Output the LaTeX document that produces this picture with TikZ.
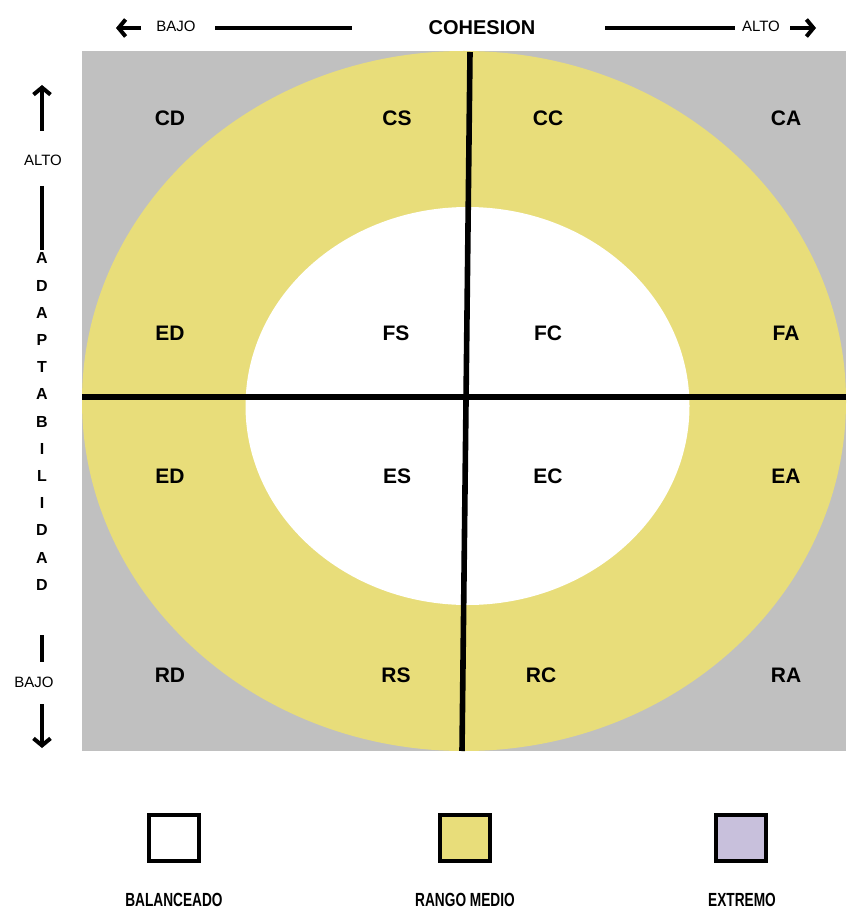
\documentclass[tikz,border=0pt]{standalone}
\usepackage{fontspec}
\setmainfont{Liberation Sans}
\newfontfamily\narrowfont[FakeStretch=0.72]{Liberation Sans}
\usetikzlibrary{arrows.meta,positioning}
\definecolor{grisext}{RGB}{192,192,192}
\definecolor{amarillo}{RGB}{232,221,122}
\definecolor{lila}{RGB}{200,192,220}

\begin{document}
\begin{tikzpicture}[x=0.5pt,y=-0.5pt,
  cell/.style={font=\fontsize{10.5}{12}\selectfont\bfseries},
  head/.style={font=\fontsize{10}{12}\selectfont\bfseries},
  small/.style={font=\fontsize{7.5}{9}\selectfont},
  axis/.style={line width=2.8pt},
  rule/.style={line width=1.6pt},
  flecha/.style={line width=2pt,-{Straight Barb[length=3.5pt,width=8.5pt]}},
  legbox/.style={draw,line width=1.7pt,minimum width=25pt,minimum height=23pt,inner sep=0pt},
  legtext/.style={font=\narrowfont\fontsize{9.5}{11}\selectfont\bfseries}]
  \useasboundingbox (0,0) rectangle (846,914);

  % zones
  \fill[grisext] (82,51) rectangle (846,751);
  \fill[amarillo] (464,401) ellipse [x radius=382, y radius=350];
  \fill[white] (467.5,406) ellipse [x radius=222, y radius=199];

  % axes
  \coordinate (ejeA) at (470,52);
  \coordinate (ejeB) at (462,751);
  \coordinate (ejeI) at (82,397);
  \coordinate (ejeD) at (846,397);
  \draw[axis] (ejeA) -- (ejeB);
  \draw[axis] (ejeI) -- (ejeD);

  % cells
  \node[cell] (cd) at (170,118) {CD};
  \node[cell] (cs) at (397,118) {CS};
  \node[cell] (cc) at (548,118) {CC};
  \node[cell] (ca) at (786,118) {CA};
  \node[cell] (ed1) at (170,333) {ED};
  \node[cell] (fs) at (396,333) {FS};
  \node[cell] (fc) at (548,333) {FC};
  \node[cell] (fa) at (786,333) {FA};
  \node[cell] (ed2) at (170,476) {ED};
  \node[cell] (es) at (397,476) {ES};
  \node[cell] (ec) at (548,476) {EC};
  \node[cell] (ea) at (786,476) {EA};
  \node[cell] (rd) at (170,675) {RD};
  \node[cell] (rs) at (396,675) {RS};
  \node[cell] (rc) at (541,675) {RC};
  \node[cell] (ra) at (786,675) {RA};

  % cohesion
  \node[head] (cohesion) at (482,28) {COHESION};
  \node[small] (bajoh) at (176,26) {BAJO};
  \node[small] (altoh) at (761,26) {ALTO};
  \coordinate (fi1) at (141,28);
  \coordinate (fi2) at (116,28);
  \coordinate (fd1) at (790,28);
  \coordinate (fd2) at (816,28);
  \draw[flecha] (fi1) -- (fi2);
  \draw[flecha] (fd1) -- (fd2);
  \coordinate (li1) at (215,28);
  \coordinate (li2) at (352,28);
  \coordinate (ld1) at (605,28);
  \coordinate (ld2) at (735,28);
  \draw[rule] (li1) -- (li2);
  \draw[rule] (ld1) -- (ld2);

  % adaptabilidad
  \coordinate (fa1) at (42,131);
  \coordinate (fa2) at (42,85);
  \coordinate (fb1) at (42,704);
  \coordinate (fb2) at (42,748);
  \draw[flecha] (fa1) -- (fa2);
  \draw[flecha] (fb1) -- (fb2);
  \node[small] (altov) at (43,160) {ALTO};
  \node[small] (bajov) at (34,682) {BAJO};
  \coordinate (lv1) at (42,186);
  \coordinate (lv2) at (42,250);
  \coordinate (lv3) at (42,635);
  \coordinate (lv4) at (42,662);
  \draw[rule] (lv1) -- (lv2);
  \draw[rule] (lv3) -- (lv4);
  \node[font=\fontsize{8}{13.6}\selectfont\bfseries,align=center,inner sep=0pt] (adapt) at (42,421.5)
    {A\\D\\A\\P\\T\\A\\B\\I\\L\\I\\D\\A\\D};

  % legend
  \node[legbox,fill=white] (balbox) at (174,838) {};
  \node[legbox,fill=amarillo] (medbox) at (465,838) {};
  \node[legbox,fill=lila] (extbox) at (741,838) {};
  \node[legtext] (bal) at (174,900) {BALANCEADO};
  \node[legtext] (med) at (465,900) {RANGO MEDIO};
  \node[legtext] (ext) at (742,900) {EXTREMO};
\end{tikzpicture}
\end{document}
